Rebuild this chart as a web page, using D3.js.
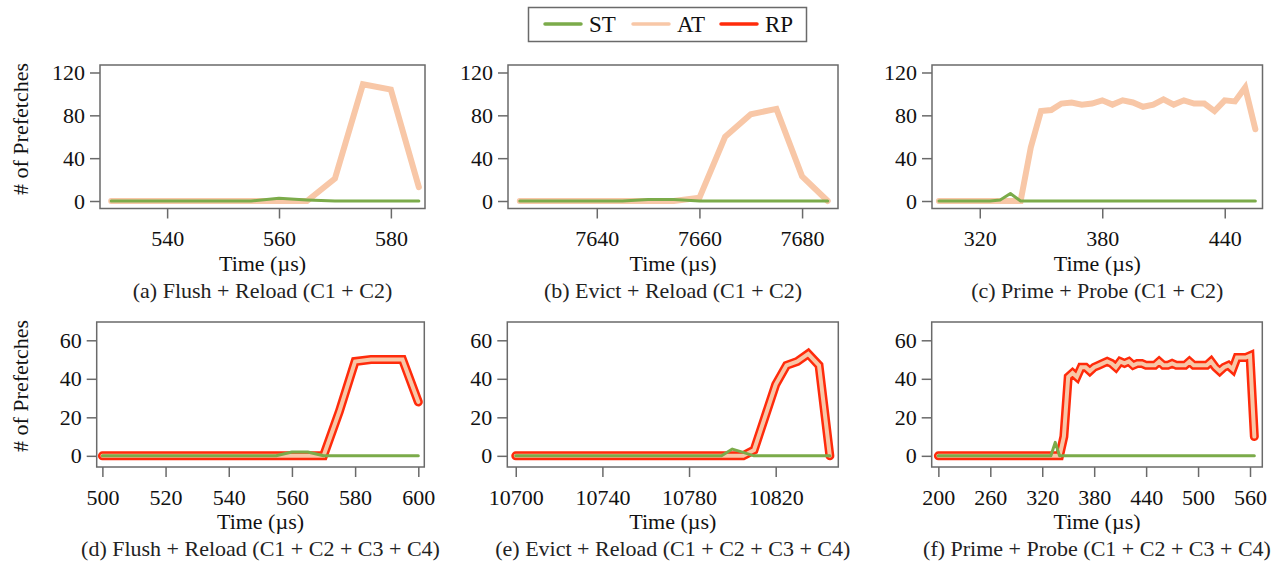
<!DOCTYPE html>
<html><head><meta charset="utf-8">
<script src="https://cdn.jsdelivr.net/npm/d3@7"></script>
<style>body{margin:0;background:#fff}</style>
</head><body>
<svg id="chart" width="1278" height="565"></svg>
<script>
// ---------------- data ----------------
const seriesNames = ["ST", "AT", "RP"];
const yLabel = "# of Prefetches";
const xLabel = "Time (\u00b5s)";
const captions = [
  "(a) Flush + Reload (C1 + C2)",
  "(b) Evict + Reload (C1 + C2)",
  "(c) Prime + Probe (C1 + C2)",
  "(d) Flush + Reload (C1 + C2 + C3 + C4)",
  "(e) Evict + Reload (C1 + C2 + C3 + C4)",
  "(f) Prime + Probe (C1 + C2 + C3 + C4)"
];

const timeA = [530,535,540,545,550,555,560,565,570,575,580,585];
const stA   = [0,0,0,0,0,0,2.5,1,0,0,0,0];
const atA   = [0,0,0,0,0,0,0,0,21,109,104,13];

const timeB = [7625,7630,7635,7640,7645,7650,7655,7660,7665,7670,7675,7680,7685];
const stB   = [0,0,0,0,0,1.5,1.5,0,0,0,0,0,0];
const atB   = [0,0,0,0,0,0,0,3,60,81,86,23,0];

const timeC = [300,305,310,315,320,325,330,335,340,345,350,355,360,365,370,375,380,385,390,395,400,405,410,415,420,425,430,435,440,445,450,455];
const stC   = [0,0,0,0,0,0,1,7,0,0,0,0,0,0,0,0,0,0,0,0,0,0,0,0,0,0,0,0,0,0,0,0];
const atC   = [0,0,0,0,0,0,0,0,0,50,84,85,91,92,90,91,94,90,94,92,88,90,95,90,94,91,91,84,94,93,106,67];

const timeD = [500,505,510,515,520,525,530,535,540,545,550,555,560,565,570,575,580,585,590,595,600];
const stD   = [0,0,0,0,0,0,0,0,0,0,0,0,2,2,0,0,0,0,0,0,0];
const rpD   = [0,0,0,0,0,0,0,0,0,0,0,0,0,0,0,23,49,50,50,50,28];

const timeE = [10700,10705,10710,10715,10720,10725,10730,10735,10740,10745,10750,10755,10760,10765,10770,10775,10780,10785,10790,10795,10800,10805,10810,10815,10820,10825,10830,10835,10840,10845];
const stE   = [0,0,0,0,0,0,0,0,0,0,0,0,0,0,0,0,0,0,0,0,3.5,1.8,0,0,0,0,0,0,0,0];
const rpE   = [0,0,0,0,0,0,0,0,0,0,0,0,0,0,0,0,0,0,0,0,0,0,3,20,37,47,49,53,47,0];

const timeF = [200,205,210,215,220,225,230,235,240,245,250,255,260,265,270,275,280,285,290,295,
               300,305,310,315,320,325,330,335,340,345,350,355,360,365,370,375,380,385,390,395,
               400,405,410,415,420,425,430,435,440,445,450,455,460,465,470,475,480,485,490,495,
               500,505,510,515,520,525,530,535,540,545,550,555,560,565];
const stF   = [0,0,0,0,0,0,0,0,0,0,0,0,0,0,0,0,0,0,0,0,
               0,0,0,0,0,0,0,7,0,0,0,0,0,0,0,0,0,0,0,0,
               0,0,0,0,0,0,0,0,0,0,0,0,0,0,0,0,0,0,0,0,
               0,0,0,0,0,0,0,0,0,0,0,0,0,0];
const rpF   = [0,0,0,0,0,0,0,0,0,0,0,0,0,0,0,0,0,0,0,0,
               0,0,0,0,0,0,0,0,0,10,41,43,41,46,46,44,46,47,48,49,
               48,46,49,48,49,47,48,48,47,47,47,49,47,47,48,47,47,47,49,47,
               47,47,47,49,46,44,46,47,45,51,51,51,52,10];

const xTicksA = [540,560,580];
const xTicksB = [7640,7660,7680];
const xTicksC = [320,380,440];
const xTicksD = [500,520,540,560,580,600];
const xTicksE = [10700,10740,10780,10820];
const xTicksF = [200,260,320,380,440,500,560];
const yTicksTop = [0,40,80,120];
const yTicksBottom = [0,20,40,60];

// ---------------- layout / style ----------------
const COLORS = {ST: "#7bab4a", AT: "#f8c7a7", RP: "#ff2b0b"};
const FONT = "Liberation Serif";
const FRAME = "#6a6a6a";

const topRow = {y0: 65, y1: 208.5, yDom: [-7, 127], yTicks: yTicksTop, labelY: 129};
const botRow = {y0: 322, y1: 467, yDom: [-5.8, 69.5], yTicks: yTicksBottom, labelY: 386};

const panels = [
  {row: topRow, x0: 100,   x1: 425,    xDom: [528, 586.1],       xTicks: xTicksA, t: timeA, st: stA, at: atA, rp: null, cap: captions[0]},
  {row: topRow, x0: 508,   x1: 838,    xDom: [7622.7, 7687],     xTicks: xTicksB, t: timeB, st: stB, at: atB, rp: null, cap: captions[1]},
  {row: topRow, x0: 932,   x1: 1262.5, xDom: [296.6, 458.5],     xTicks: xTicksC, t: timeC, st: stC, at: atC, rp: null, cap: captions[2]},
  {row: botRow, x0: 96.7,  x1: 424.3,  xDom: [498.2, 601.9],     xTicks: xTicksD, t: timeD, st: stD, at: rpD, rp: rpD, cap: captions[3]},
  {row: botRow, x0: 507.3, x1: 838.3,  xDom: [10696.1, 10848.9], xTicks: xTicksE, t: timeE, st: stE, at: rpE, rp: rpE, cap: captions[4]},
  {row: botRow, x0: 931.7, x1: 1262.3, xDom: [192.3, 574.2],     xTicks: xTicksF, t: timeF, st: stF, at: rpF, rp: rpF, cap: captions[5]}
];

const svg = d3.select("#chart");
const fmt = d3.format("d");

function styleText(sel, size) {
  return sel.attr("font-family", FONT).style("font-family", FONT)
    .attr("font-size", size).style("font-size", size + "px");
}

panels.forEach((p, i) => {
  const r = p.row;
  const x = d3.scaleLinear().domain(p.xDom).range([p.x0, p.x1]);
  const y = d3.scaleLinear().domain(r.yDom).range([r.y1, r.y0]);
  const g = svg.append("g");

  // lines (drawn first)
  const mk = vals => d3.line().x((d, k) => x(p.t[k])).y(d => y(d))(vals);
  if (p.rp) {
    g.append("path").attr("d", mk(p.rp)).attr("fill", "none").attr("stroke", COLORS.RP)
      .attr("stroke-width", 9).attr("stroke-linecap", "round").attr("stroke-linejoin", "miter");
    g.append("path").attr("d", mk(p.at)).attr("fill", "none").attr("stroke", COLORS.AT)
      .attr("stroke-width", 4).attr("stroke-linecap", "round").attr("stroke-linejoin", "miter");
  } else {
    g.append("path").attr("d", mk(p.at)).attr("fill", "none").attr("stroke", COLORS.AT)
      .attr("stroke-width", 6).attr("stroke-linecap", "round").attr("stroke-linejoin", "miter");
  }
  g.append("path").attr("d", mk(p.st)).attr("fill", "none").attr("stroke", COLORS.ST)
    .attr("stroke-width", 3).attr("stroke-linecap", "round").attr("stroke-linejoin", "round");

  // frame
  g.append("rect").attr("x", p.x0).attr("y", r.y0).attr("width", p.x1 - p.x0).attr("height", r.y1 - r.y0)
    .attr("fill", "none").attr("stroke", FRAME).attr("stroke-width", 1.5);

  // x axis
  const xa = g.append("g").attr("transform", `translate(0,${r.y1})`)
    .call(d3.axisBottom(x).tickValues(p.xTicks).tickFormat(fmt).tickSize(10).tickPadding(12).tickSizeOuter(0));
  xa.attr("font-family", FONT).attr("font-size", 22);
  xa.select(".domain").remove();
  xa.selectAll(".tick line").attr("stroke", FRAME).attr("stroke-width", 1.5);
  styleText(xa.selectAll(".tick text"), 22).attr("fill", "#111");

  // y axis
  const ya = g.append("g").attr("transform", `translate(${p.x0},0)`)
    .call(d3.axisLeft(y).tickValues(r.yTicks).tickFormat(fmt).tickSize(10).tickPadding(5).tickSizeOuter(0));
  ya.attr("font-family", FONT).attr("font-size", 22);
  ya.select(".domain").remove();
  ya.selectAll(".tick line").attr("stroke", FRAME).attr("stroke-width", 1.5);
  styleText(ya.selectAll(".tick text"), 22).attr("fill", "#111");

  // texts
  const cx = (p.x0 + p.x1) / 2;
  styleText(g.append("text").attr("x", cx).attr("y", r.y1 + 62).attr("text-anchor", "middle"), 22)
    .attr("fill", "#111").text(xLabel);
  styleText(g.append("text").attr("x", cx).attr("y", r.y1 + 89).attr("text-anchor", "middle"), 22)
    .attr("fill", "#222").text(p.cap);

  if (i === 0 || i === 3) {
    styleText(g.append("text").attr("transform", `translate(28,${r.labelY}) rotate(-90)`)
      .attr("text-anchor", "middle"), 22).attr("fill", "#111").text(yLabel);
  }
});

// legend
const lg = svg.append("g");
lg.append("rect").attr("x", 528.5).attr("y", 7.5).attr("width", 278).attr("height", 34)
  .attr("fill", "#fff").attr("stroke", FRAME).attr("stroke-width", 1.5);
const legX = [545, 633, 721];
seriesNames.forEach((s, k) => {
  lg.append("line").attr("x1", legX[k]).attr("x2", legX[k] + 36).attr("y1", 24).attr("y2", 24)
    .attr("stroke", COLORS[s]).attr("stroke-width", 3.5).attr("stroke-linecap", "round");
  styleText(lg.append("text").attr("x", legX[k] + 44).attr("y", 32), 23).attr("fill", "#111").text(s);
});
</script>
</body></html>
